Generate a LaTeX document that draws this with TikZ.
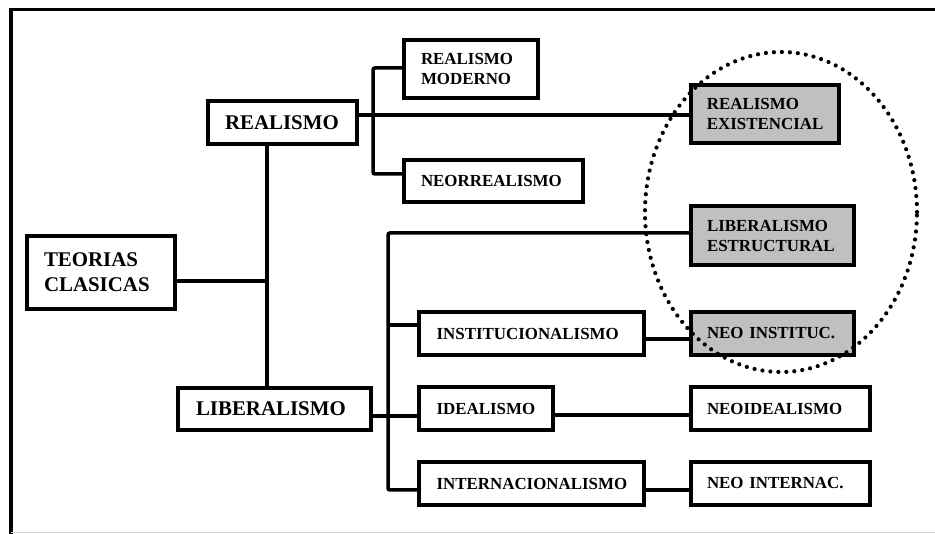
\documentclass[tikz,border=0pt]{standalone}
\usepackage{fontspec}
\setmainfont{Liberation Serif}
\definecolor{boxgray}{RGB}{192,192,192}
\begin{document}
\begin{tikzpicture}[x=1pt,y=-1pt,
  sbox/.style={draw, line width=4pt, rectangle, inner sep=0pt, fill=white, align=left, font=\bfseries\fontsize{16.9}{20}\selectfont},
  bbox/.style={sbox, font=\bfseries\fontsize{20.9}{25}\selectfont},
  gbox/.style={sbox, fill=boxgray},
  conn/.style={line width=3.5pt},
  dots/.style={line width=4.2pt, dash pattern=on 0pt off 8pt, line cap=round}]
\useasboundingbox (0,0) rectangle (935,534);
% frame
\draw[line width=3.8pt, line join=miter] (11,534) -- (11,9.5) -- (935,9.5);
\draw[gray!35, line width=1.5pt] (11,532.5) -- (935,532.5);
% nodes
\node[bbox, minimum width=148pt, minimum height=73pt, text width=114pt] (tc) at (101,272.5) {TEORIAS\\CLASICAS};
\node[bbox, minimum width=149pt, minimum height=43pt, text width=115pt] (realismo) at (282.5,122.5) {REALISMO};
\node[bbox, minimum width=193pt, minimum height=42pt, text width=157pt] (liberalismo) at (274.5,409) {LIBERALISMO};
\node[sbox, minimum width=134pt, minimum height=58pt, text width=100pt] (rm) at (471,69) {REALISMO\\MODERNO};
\node[sbox, minimum width=178.5pt, minimum height=42pt, text width=144.6pt] (neor) at (493.3,181) {NEORREALISMO};
\node[gbox, minimum width=148.3pt, minimum height=58pt, text width=116pt] (re) at (764.9,114) {REALISMO\\EXISTENCIAL};
\node[gbox, minimum width=163pt, minimum height=59pt, text width=131pt] (le) at (772.5,235.5) {LIBERALISMO\\ESTRUCTURAL};
\node[sbox, minimum width=224.5pt, minimum height=43pt, text width=189.3pt] (inst) at (531.25,333.5) {INSTITUCIONALISMO};
\node[gbox, minimum width=163pt, minimum height=43pt, text width=131pt] (ni) at (772.5,333.5) {NEO INSTITUC.};
\node[sbox, minimum width=134pt, minimum height=43pt, text width=98.8pt] (ideal) at (486,408.5) {IDEALISMO};
\node[sbox, minimum width=179pt, minimum height=43pt, text width=147pt] (neoideal) at (780.5,408.5) {NEOIDEALISMO};
\node[sbox, minimum width=224.5pt, minimum height=43pt, text width=189.3pt] (intern) at (531.25,483.5) {INTERNACIONALISMO};
\node[sbox, minimum width=179pt, minimum height=43pt, text width=147pt] (neoint) at (780.5,483.5) {NEO INTERNAC.};
% junction coordinates
\coordinate (jtc) at (267,281);
\coordinate (jr1) at (373,68);
\coordinate (jr2) at (373,174);
\coordinate (jl1) at (388,233);
\coordinate (jl2) at (388,325);
\coordinate (jl3) at (388,416);
\coordinate (jl4) at (388,490);
% connectors
\draw[conn] (tc.east |- jtc) -- (jtc);
\draw[conn] (realismo.south -| jtc) -- (liberalismo.north -| jtc);
\draw[conn] (realismo.east |- 0,115) -- (re.west |- 0,115);
\draw[conn, rounded corners=2pt] (rm.west |- jr1) -- (jr1) -- (jr2) -- (neor.west |- jr2);
\draw[conn, rounded corners=2pt] (le.west |- jl1) -- (jl1) -- (jl4) -- (intern.west |- jl4);
\draw[conn] (jl2) -- (inst.west |- jl2);
\draw[conn] (liberalismo.east |- jl3) -- (ideal.west |- jl3);
\draw[conn] (inst.east |- 0,339) -- (ni.west |- 0,339);
\draw[conn] (ideal.east |- 0,415) -- (neoideal.west |- 0,415);
\draw[conn] (intern.east |- jl4) -- (neoint.west |- jl4);
% dotted ellipse
\draw[dots] (781,212) ellipse [x radius=136pt, y radius=160pt];
\end{tikzpicture}
\end{document}
